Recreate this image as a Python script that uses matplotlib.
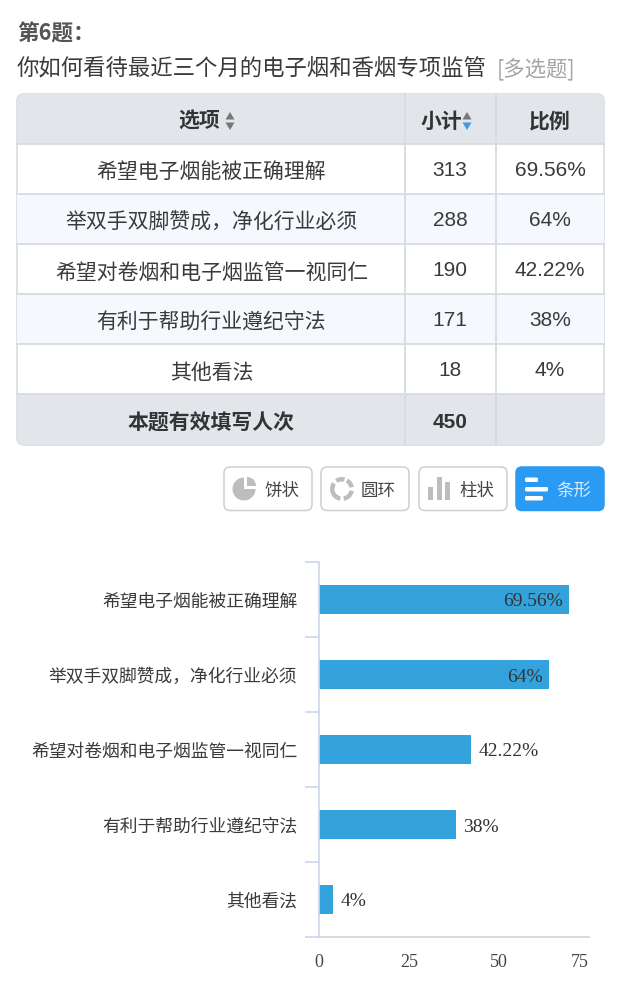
import matplotlib
matplotlib.use('Agg')
import matplotlib.pyplot as plt
from matplotlib.patches import FancyBboxPatch, Rectangle, Wedge, Polygon

plt.rcParams['font.family'] = ['Noto Sans CJK SC', 'DejaVu Sans']

options = ['希望电子烟能被正确理解', '举双手双脚赞成，净化行业必须', '希望对卷烟和电子烟监管一视同仁', '有利于帮助行业遵纪守法', '其他看法']
counts = ['313', '288', '190', '171', '18']
shares = ['69.56%', '64%', '42.22%', '38%', '4%']
percent = [69.56, 64, 42.22, 38, 4]
xticks = [0, 25, 50, 75]
buttons = ['饼状', '圆环', '柱状', '条形']

W, H = 621, 1000
fig = plt.figure(figsize=(W / 100, H / 100), dpi=100, facecolor='white')
bg = fig.add_axes([0, 0, 1, 1])
bg.set_xlim(0, W)
bg.set_ylim(H, 0)
bg.axis('off')

DARK = '#3a3a3a'
GRID = '#d8dce1'
HEAD = '#e2e5ea'
NUM = ['Liberation Sans', 'Noto Sans CJK SC']

# Title
bg.text(17, 34.5, '第6题：', fontsize=15.6, weight='bold', color='#555555', va='center', ha='left')
bg.text(17, 69, '你如何看待最近三个月的电子烟和香烟专项监管', fontsize=16.1, color=DARK, va='center', ha='left')
bg.text(497, 69, '[多选题]', fontsize=15.4, color='#a5a5a5', va='center', ha='left')

# Table
tl, tr, tt, tb = 17, 604, 94, 445
c1, c2 = 405, 496
rows_y = [144, 194, 244, 294, 344, 394]
bg.add_patch(FancyBboxPatch((tl, tt), tr - tl, tb - tt, boxstyle='round,pad=0,rounding_size=7',
                            fc='white', ec=GRID, lw=1.2, zorder=1))
bg.add_patch(FancyBboxPatch((tl, tt), tr - tl, 50, boxstyle='round,pad=0,rounding_size=7',
                            fc=HEAD, ec='none', zorder=1.1))
bg.add_patch(Rectangle((tl, tt + 15), tr - tl, 35, fc=HEAD, ec='none', zorder=1.1))
bg.add_patch(FancyBboxPatch((tl, rows_y[5]), tr - tl, tb - rows_y[5], boxstyle='round,pad=0,rounding_size=7',
                            fc=HEAD, ec='none', zorder=1.1))
bg.add_patch(Rectangle((tl, rows_y[5]), tr - tl, 30, fc=HEAD, ec='none', zorder=1.1))
for i in (1, 3):
    bg.add_patch(Rectangle((tl, rows_y[i]), tr - tl, 50, fc='#f5f9fd', ec='none', zorder=1.1))
for y in rows_y:
    bg.plot([tl, tr], [y, y], color=GRID, lw=1.3, zorder=2)
for x in (c1, c2):
    bg.plot([x, x], [tt, tb], color=GRID, lw=1.3, zorder=2)

cx = [(tl + c1) / 2, (c1 + c2) / 2, (c2 + tr) / 2]
HDR = dict(fontsize=15, weight='bold', color='#333333', va='center', ha='center', zorder=3)
bg.text(199, 121.5, '选项', **HDR)
bg.text(441, 121.5, '小计', **HDR)
bg.text(550, 121.5, '比例', **HDR)


def sorter(x, y, low='#777777'):
    bg.add_patch(Polygon([(x - 4.5, y - 1.5), (x + 4.5, y - 1.5), (x, y - 9)], fc='#777777', ec='none', zorder=3))
    bg.add_patch(Polygon([(x - 4.5, y + 1.5), (x + 4.5, y + 1.5), (x, y + 9)], fc=low, ec='none', zorder=3))


sorter(230, 121)
sorter(467, 121, '#3a9be6')

for i in range(5):
    my = (rows_y[i] + rows_y[i + 1]) / 2 + 4
    bg.text(cx[0] + 0.5, my, options[i], fontsize=15, color=DARK, va='center', ha='center', zorder=3)
    bg.text(cx[1] - 0.5, my - 2, counts[i], fontsize=15, family=NUM, color=DARK, va='center', ha='center', zorder=3)
    bg.text(cx[2], my - 2, shares[i], fontsize=15, family=NUM, color=DARK, va='center', ha='center', zorder=3)
bg.text(cx[0], 423, '本题有效填写人次', fontsize=15, weight='bold', color='#333333', va='center', ha='center', zorder=3)
bg.text(cx[1] - 0.5, 423, '450', fontsize=15, family=NUM, weight='bold', color='#333333', va='center', ha='center', zorder=3)

# Buttons
bx = [224, 321, 419, 516]
bw = 88
for i, (x, lab) in enumerate(zip(bx, buttons)):
    active = i == 3
    bg.add_patch(FancyBboxPatch((x, 467), bw, 43.5, boxstyle='round,pad=0,rounding_size=6',
                                fc='#2b9af3' if active else 'white',
                                ec='#2b9af3' if active else '#cfcfcf', lw=1.1, zorder=2))
    bg.text(x + 57.5, 491, lab, fontsize=12.6, color='#d5ecff' if active else '#444444',
            va='center', ha='center', zorder=3)
ICON = '#bdbdbd'
bg.add_patch(Wedge((244, 489), 11.5, 0, 270, fc=ICON, ec='none', zorder=3))
bg.add_patch(Wedge((247, 486), 9, 270, 360, fc=ICON, ec='none', zorder=3))
for a, b in [(10, 80), (100, 215), (235, 285), (300, 350)]:
    bg.add_patch(Wedge((342, 489), 12, a, b, width=4.5, fc=ICON, ec='none', zorder=3))
for x0, top in [(428, 487), (437, 477), (445, 482)]:
    bg.add_patch(Rectangle((x0, top), 5, 500 - top, fc=ICON, ec='none', zorder=3))
for y0, x1 in [(477.5, 538), (487, 548), (496, 543)]:
    bg.add_patch(FancyBboxPatch((525, y0), x1 - 525, 4.5, boxstyle='round,pad=0,rounding_size=1.5',
                                fc='white', ec='none', zorder=3))

# Bar chart, axes in pixel-derived fractions
L, R, T, B = 319, 589, 562, 937
ax = fig.add_axes([L / W, 1 - B / H, (R - L) / W, (B - T) / H])
ax.patch.set_alpha(0)
ax.set_xlim(0, 75)
ax.set_ylim(len(options) - 0.5, -0.5)
ypos = list(range(len(options)))
bars = ax.barh(ypos, percent, height=0.375, color='#34a2dd', zorder=2)
for s in ('top', 'right'):
    ax.spines[s].set_visible(False)
for s in ('left', 'bottom'):
    ax.spines[s].set_color('#ccd6eb')
    ax.spines[s].set_linewidth(1.2)
ax.spines['bottom'].set_color('#d0d3d8')
ax.set_xticks(xticks)
ax.set_xticklabels([str(v) for v in xticks], family='Liberation Serif', fontsize=13, color='#444444')
ax.get_xticklabels()[-1].set_ha('right')
ax.tick_params(axis='x', length=0, pad=12.5)
ax.set_yticks([i - 0.5 for i in range(len(options) + 1)], minor=True)
ax.set_yticks(ypos)
ax.set_yticklabels(options, fontsize=12.8, color=DARK)
ax.tick_params(axis='y', which='major', length=0, pad=15.5)
ax.tick_params(axis='y', which='minor', length=10, width=1.2, color='#ccd6eb')
for y, v, s in zip(ypos, percent, shares):
    inside = v > 60
    ax.annotate(s, (v, y), xytext=(-5 if inside else 5.5, -1.8), textcoords='offset points',
                ha='right' if inside else 'left', va='center',
                family='Liberation Serif', fontsize=14, color='#333333', zorder=4)

fig.savefig('out.png', dpi=100, facecolor='white')
